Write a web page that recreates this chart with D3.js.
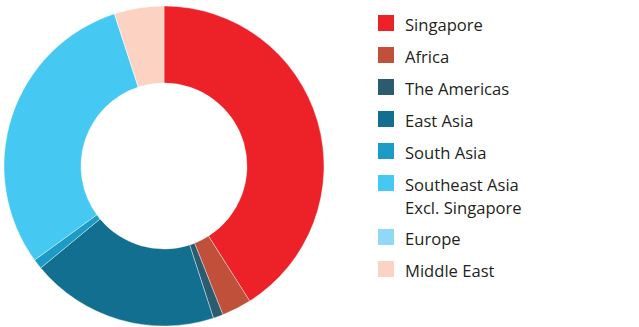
<!DOCTYPE html>
<html>
<head>
<meta charset="utf-8">
<script src="https://cdn.jsdelivr.net/npm/d3@7"></script>
<style>
  body { margin: 0; background: #fff; }
  svg { display: block; }
  text { font-family: "Open Sans", "Noto Sans", sans-serif; fill: #231f20; }
</style>
</head>
<body>
<div id="chart"></div>
<script>
// regions, share in percent (Europe is too small to see)
const regions = ["Singapore", "Africa", "The Americas", "East Asia", "South Asia",
  "Southeast Asia\nExcl. Singapore", "Europe", "Middle East"];
const shares = [41, 3, 1, 19, 1, 30, 0, 5];
const colors = ["#ed2229", "#c1503a", "#2b5b6f", "#136f8f", "#1b9bc5",
  "#45c9f2", "#8fd8f6", "#fcd3c2"];

const width = 639, height = 327;
const cx = 164, cy = 166, outerR = 160, innerR = 83;

const svg = d3.select("#chart").append("svg")
  .attr("width", width)
  .attr("height", height);

const color = d3.scaleOrdinal().domain(regions).range(colors);

const data = regions.map((r, i) => ({ region: r, value: shares[i] }));

const pie = d3.pie().sort(null).value(d => d.value);
const arc = d3.arc().innerRadius(innerR).outerRadius(outerR);

svg.append("g")
  .attr("transform", `translate(${cx},${cy})`)
  .selectAll("path")
  .data(pie(data))
  .join("path")
  .attr("d", arc)
  .attr("fill", d => color(d.data.region))
  .attr("stroke", "#fff")
  .attr("stroke-width", 0.4);

// legend
const legend = svg.append("g").attr("transform", "translate(378,15)");
let y = 0;
regions.forEach((r, i) => {
  const lines = r.split("\n");
  const item = legend.append("g").attr("transform", `translate(0,${y})`);
  item.append("rect")
    .attr("width", 16).attr("height", 16)
    .attr("fill", color(r));
  const t = item.append("text")
    .attr("x", 27).attr("y", 15.5)
    .style("font-size", "16.6px");
  lines.forEach((l, j) => {
    t.append("tspan").attr("x", 27).attr("dy", j === 0 ? 0 : 23).text(l);
  });
  y += 32 + (lines.length - 1) * 22;
});
</script>
</body>
</html>
